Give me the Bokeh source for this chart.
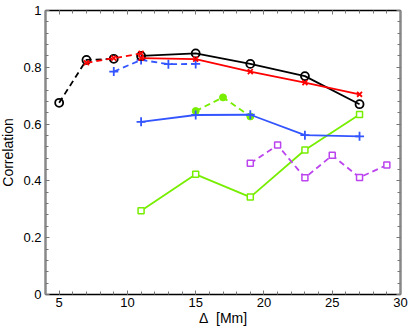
from bokeh.plotting import figure
from bokeh.models import Range1d, LinearAxis, SingleIntervalTicker, CustomJSTickFormatter
from bokeh.embed import file_html
from bokeh.resources import INLINE

# Black (open circles)
black_dash_x = [5, 7, 9]
black_dash_y = [0.675, 0.826, 0.830]
black_x = [11, 15, 19, 23, 27]
black_y = [0.840, 0.849, 0.812, 0.769, 0.670]

# Red (x markers)
red_dash_x = [7, 9, 11]
red_dash_y = [0.816, 0.832, 0.849]
red_x = [11, 15, 19, 23, 27]
red_y = [0.832, 0.829, 0.785, 0.746, 0.705]

# Blue (+ markers)
blue_dash_x = [9, 11, 13, 15]
blue_dash_y = [0.785, 0.826, 0.811, 0.812]
blue_x = [11, 15, 19, 23, 27]
blue_y = [0.608, 0.632, 0.633, 0.561, 0.557]

# Green
green_dash_x = [15, 17, 19]
green_dash_y = [0.646, 0.694, 0.627]
green_x = [11, 15, 19, 23, 27]
green_y = [0.295, 0.423, 0.343, 0.509, 0.634]

# Purple
purple_dash_x = [19, 21, 23, 25, 27, 29]
purple_dash_y = [0.462, 0.526, 0.411, 0.490, 0.412, 0.456]

BLACK = "#000000"
RED = "#ff0000"
BLUE = "#3355ff"
GREEN = "#77ee00"
PURPLE = "#bb44ee"
DASH = "6 4"
FONT = "Liberation Sans"

p = figure(width=415, height=328, output_backend="svg", toolbar_location=None,
           x_range=Range1d(4, 30), y_range=Range1d(0, 1),
           min_border_left=45, min_border_right=12, min_border_top=10, min_border_bottom=30,
           styles={"margin-top": "-0px", "margin-left": "-3px"})
p.outline_line_color = None
p.xgrid.visible = False
p.ygrid.visible = False
p.background_fill_color = "white"
p.border_fill_color = "white"

fmt = CustomJSTickFormatter(code="return String(Math.round(tick*10)/10);")
blank = CustomJSTickFormatter(code="return '';")

def style_axis(ax, line_color, line_width, labels=True):
    ax.axis_line_color = line_color
    ax.axis_line_width = line_width
    ax.major_tick_in = 4
    ax.major_tick_out = 0
    ax.minor_tick_in = 3
    ax.minor_tick_out = 0
    ax.major_tick_line_color = "#777777"
    ax.minor_tick_line_color = "#777777"
    ax.major_label_text_font = FONT
    ax.major_label_text_font_size = "13px"
    ax.major_label_text_color = "black"
    ax.axis_label_text_font = FONT
    ax.axis_label_text_font_size = "14px"
    ax.axis_label_text_font_style = "normal"
    ax.axis_label_text_color = "black"
    if not labels:
        ax.formatter = blank
        ax.major_label_standoff = 0

xt = SingleIntervalTicker(interval=5, num_minor_ticks=5)
yt = SingleIntervalTicker(interval=0.2, num_minor_ticks=5)

p.xaxis.ticker = xt
p.yaxis.ticker = yt
p.yaxis.formatter = fmt
p.xaxis.axis_label = "Δ\u00a0\u00a0[Mm]"
p.yaxis.axis_label = "Correlation"
style_axis(p.xaxis[0], "black", 1.5)
style_axis(p.yaxis[0], "#888888", 2.5)
p.xaxis.major_label_standoff = 3
p.yaxis.major_label_standoff = 4
p.xaxis.axis_label_standoff = 0
p.yaxis.axis_label_standoff = 4

top = LinearAxis(ticker=SingleIntervalTicker(interval=5, num_minor_ticks=5))
style_axis(top, "black", 1.5, labels=False)
right = LinearAxis(ticker=SingleIntervalTicker(interval=0.2, num_minor_ticks=5))
style_axis(right, "#888888", 2.5, labels=False)
p.add_layout(top, "above")
p.add_layout(right, "right")

LW = 1.8

# Green
p.line(green_x, green_y, color=GREEN, line_width=LW)
p.scatter(green_x, green_y, marker="square", size=6, line_color=GREEN, fill_color="white", line_width=1.5)
p.line(green_dash_x, green_dash_y, color=GREEN, line_width=LW, line_dash=DASH)
p.scatter(green_dash_x, green_dash_y, marker="circle", size=7, line_color=GREEN, fill_color=GREEN)

# Purple
p.line(purple_dash_x, purple_dash_y, color=PURPLE, line_width=LW, line_dash=DASH)
p.scatter(purple_dash_x, purple_dash_y, marker="square", size=6, line_color=PURPLE, fill_color="white", line_width=1.5)

# Blue
p.line(blue_x, blue_y, color=BLUE, line_width=LW)
p.scatter(blue_x, blue_y, marker="cross", size=9, line_color=BLUE, line_width=1.8)
p.line(blue_dash_x, blue_dash_y, color=BLUE, line_width=LW, line_dash=DASH)
p.scatter(blue_dash_x, blue_dash_y, marker="cross", size=9, line_color=BLUE, line_width=1.8)

# Black
p.line(black_x, black_y, color=BLACK, line_width=LW)
p.scatter(black_x, black_y, marker="circle", size=8, line_color=BLACK, fill_color=None, line_width=1.8)
p.line(black_dash_x, black_dash_y, color=BLACK, line_width=LW, line_dash=DASH)
p.scatter(black_dash_x, black_dash_y, marker="circle", size=8, line_color=BLACK, fill_color=None, line_width=1.8)

# Red
p.line(red_x, red_y, color=RED, line_width=LW)
p.scatter(red_x, red_y, marker="x", size=7, line_color=RED, line_width=1.8)
p.line(red_dash_x, red_dash_y, color=RED, line_width=LW, line_dash=DASH)
p.scatter(red_dash_x, red_dash_y, marker="x", size=7, line_color=RED, line_width=1.8)

open("out.html", "w").write(file_html(p, INLINE))
